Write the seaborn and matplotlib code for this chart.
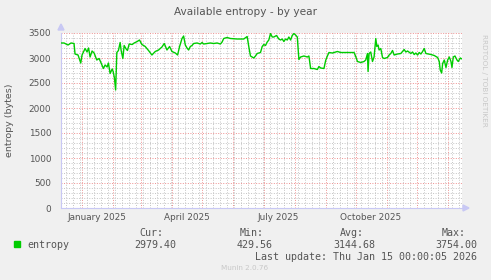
import numpy as np
import pandas as pd
import matplotlib
matplotlib.use("Agg")
import matplotlib.pyplot as plt
import matplotlib.dates as mdates
import seaborn as sns

# ---- data ----
start_date = "2024-12-11"
end_date = "2026-01-15"
day_offset = [0, 3, 7, 10, 13, 14, 17, 19.7, 21, 24, 26, 27.5, 29, 31, 33, 35.7, 38, 40,
              42.3, 44, 46, 47.3, 49, 51, 52, 53.3, 54.5, 55.7, 57.3, 59, 60, 61.7, 63, 65,
              66.3, 68, 71, 73, 76, 78.3, 80.7, 84, 87.3, 90.7, 94, 97.3, 100.7, 103, 105.7,
              108.3, 110.7, 114, 116.3, 118.3, 120.7, 122.3, 124, 125.7, 127.3, 129, 130.7,
              132.3, 135.7, 139, 140.7, 142.3, 145.7, 149, 152.3, 155.7, 159, 160.7, 162.3,
              165.7, 169, 175.7, 182.3, 185.7, 187.3, 189, 192.3, 194, 195.7, 199, 200.7,
              202.3, 204, 205.7, 207.3, 209, 210.7, 212.3, 215, 217.3, 219, 220.7, 222.3,
              224, 225.7, 227.3, 229, 230.7, 232.3, 234, 235.7, 237.3, 239, 242.3, 245.7,
              247.3, 249, 252.3, 255.7, 257.3, 259, 262.3, 264, 265.7, 267.3, 270.7, 275.7,
              279, 285.7, 292.3, 294, 295.7, 299, 302.3, 304, 305.7, 306.3, 307.3, 309,
              310.7, 312.3, 314, 315, 316.3, 317.3, 319, 320.7, 322.3, 325.7, 327.3, 329,
              330.7, 332.3, 335.7, 339, 342.3, 344, 345.7, 349, 350.7, 352.3, 354, 355.7,
              357.3, 359, 360.7, 362.3, 364, 369, 372.3, 374, 375.7, 377.3, 378.3, 379.7,
              380.7, 382.3, 384, 385.7, 387.3, 389, 390, 391.3, 393, 395, 396.3, 398.3, 400]
entropy = [3300, 3300, 3260, 3300, 3290, 3080, 3060, 2900, 3060, 3190, 3120, 3200, 3020,
           3140, 3100, 2960, 2990, 2900, 2790, 2860, 2820, 2900, 2690, 2780, 2730, 2600,
           2360, 3110, 3150, 3310, 3150, 2990, 3250, 3180, 3150, 3280, 3270, 3300, 3330,
           3360, 3270, 3230, 3150, 3060, 3130, 3160, 3220, 3290, 3160, 3230, 3130, 3100,
           3060, 3230, 3390, 3440, 3260, 3200, 3160, 3230, 3250, 3290, 3300, 3280, 3310,
           3280, 3290, 3300, 3290, 3300, 3280, 3320, 3390, 3410, 3390, 3380, 3380, 3430,
           3230, 3040, 3000, 3040, 3090, 3110, 3230, 3270, 3250, 3320, 3360, 3490, 3420,
           3420, 3450, 3380, 3360, 3380, 3330, 3380, 3360, 3420, 3360, 3450, 3490, 3460,
           3420, 2970, 3020, 3040, 3020, 3040, 2790, 2790, 2770, 2830, 2800, 2790, 2950,
           3040, 3110, 3100, 3130, 3110, 3110, 3110, 3030, 2930, 2910, 2930, 2960, 3090,
           2730, 3090, 3120, 2930, 3020, 3390, 3230, 3260, 3160, 3190, 3010, 2990, 3010,
           3060, 3090, 3150, 3060, 3080, 3090, 3170, 3120, 3140, 3090, 3120, 3070, 3100,
           3060, 3110, 3080, 3130, 3190, 3090, 3070, 3050, 3030, 3010, 2930, 2760, 2700,
           2890, 2960, 2810, 2960, 3020, 2930, 2810, 3020, 3040, 2960, 2930, 3000, 2980]
y_ticks = [0, 500, 1000, 1500, 2000, 2500, 3000, 3500]
x_label_dates = ["2025-01-16", "2025-04-16", "2025-07-16", "2025-10-16"]
x_labels = ["January 2025", "April 2025", "July 2025", "October 2025"]
legend_headers = ["Cur:", "Min:", "Avg:", "Max:"]
legend_values = ["2979.40", "429.56", "3144.68", "3754.00"]

# ---- figure ----
sns.set_style("white")
plt.rcParams["font.family"] = ["DejaVu Sans"]

W, H = 491, 280
fig = plt.figure(figsize=(W / 100, H / 100), dpi=100, facecolor="#F0F0F0")
L, R, T, B = 61, 462, 33, 208
ax = fig.add_axes([L / W, 1 - B / H, (R - L) / W, (B - T) / H])
ax.set_facecolor("#FFFFFF")

df = pd.DataFrame({
    "date": pd.Timestamp(start_date) + pd.to_timedelta(day_offset, unit="D"),
    "entropy": entropy,
})
sns.lineplot(data=df, x="date", y="entropy", ax=ax, color="#00CC00", linewidth=1.0,
             zorder=5)
ax.set_xlabel("")
ax.set_ylabel("")

ax.set_xlim(pd.Timestamp(start_date), pd.Timestamp(end_date))
ax.set_ylim(0, 3500)

# grid
ax.xaxis.set_major_locator(mdates.MonthLocator())
ax.xaxis.set_minor_locator(mdates.WeekdayLocator(byweekday=mdates.MO))
ax.set_yticks(y_ticks)
ax.yaxis.set_minor_locator(matplotlib.ticker.MultipleLocator(100))
ax.grid(which="minor", color="#C4C4C4", linestyle=(0, (1, 1.6)), linewidth=0.7, zorder=1)
ax.grid(which="major", color="#EE9090", linestyle=(0, (1, 1.6)), linewidth=0.7, zorder=2)
ax.set_axisbelow(True)

ax.set_xticklabels([])
ax.tick_params(axis="both", which="both", length=0)
ax.tick_params(axis="y", labelsize=6.4, labelcolor="#555555", pad=7)
ax.set_yticklabels([str(v) for v in y_ticks])

for d, lab in zip(x_label_dates, x_labels):
    ax.text(pd.Timestamp(d), -0.03, lab, transform=ax.get_xaxis_transform(),
            ha="center", va="top", fontsize=6.4, color="#555555")

for s in ["top", "right"]:
    ax.spines[s].set_visible(False)
for s in ["left", "bottom"]:
    ax.spines[s].set_color("#C8C8F4")
    ax.spines[s].set_linewidth(0.8)

# axis arrows
fig.patches.append(matplotlib.patches.Polygon(
    [[(L - 3) / W, 1 - 30 / H], [(L + 3) / W, 1 - 30 / H], [L / W, 1 - 24 / H]],
    closed=True, color="#C8C8F4", transform=fig.transFigure))
fig.patches.append(matplotlib.patches.Polygon(
    [[(R + 1) / W, 1 - (B - 3) / H], [(R + 1) / W, 1 - (B + 3) / H], [(R + 7) / W, 1 - B / H]],
    closed=True, color="#C8C8F4", transform=fig.transFigure))

# titles
fig.text(245 / W, 1 - 12 / H, "Available entropy - by year", ha="center", va="center",
         fontsize=7.6, color="#555555")
fig.text(10 / W, 1 - 120 / H, "entropy (bytes)", rotation=90, ha="center", va="center",
         fontsize=6.8, color="#555555")
fig.text(484 / W, 1 - 80 / H, "RRDTOOL / TOBI OETIKER", rotation=270, ha="center",
         va="center", fontsize=5.2, color="#C8C8C8")

# legend
mono = "DejaVu Sans Mono"
fig.patches.append(matplotlib.patches.Rectangle((14 / W, 1 - 247 / H), 6 / W, 6 / H,
                                                color="#00CC00", transform=fig.transFigure))
fig.text(27 / W, 1 - 244.5 / H, "entropy", ha="left", va="center", fontsize=7.2,
         family=mono, color="#555555")
hdr_x = [139, 240, 340, 442]
val_right = [176, 273, 375, 477]
for hx, hdr, vr, val in zip(hdr_x, legend_headers, val_right, legend_values):
    fig.text(hx / W, 1 - 233 / H, hdr, ha="left", va="center", fontsize=7.2,
             family=mono, color="#555555")
    fig.text(vr / W, 1 - 244.5 / H, val, ha="right", va="center", fontsize=7.2,
             family=mono, color="#555555")
fig.text(477 / W, 1 - 256.5 / H, "Last update: Thu Jan 15 00:00:05 2026", ha="right",
         va="center", fontsize=7.2, family=mono, color="#555555")
fig.text(245 / W, 1 - 268 / H, "Munin 2.0.76", ha="center", va="center", fontsize=5.2,
         color="#C8C8C8")

fig.savefig("out.png", dpi=100, facecolor=fig.get_facecolor())
